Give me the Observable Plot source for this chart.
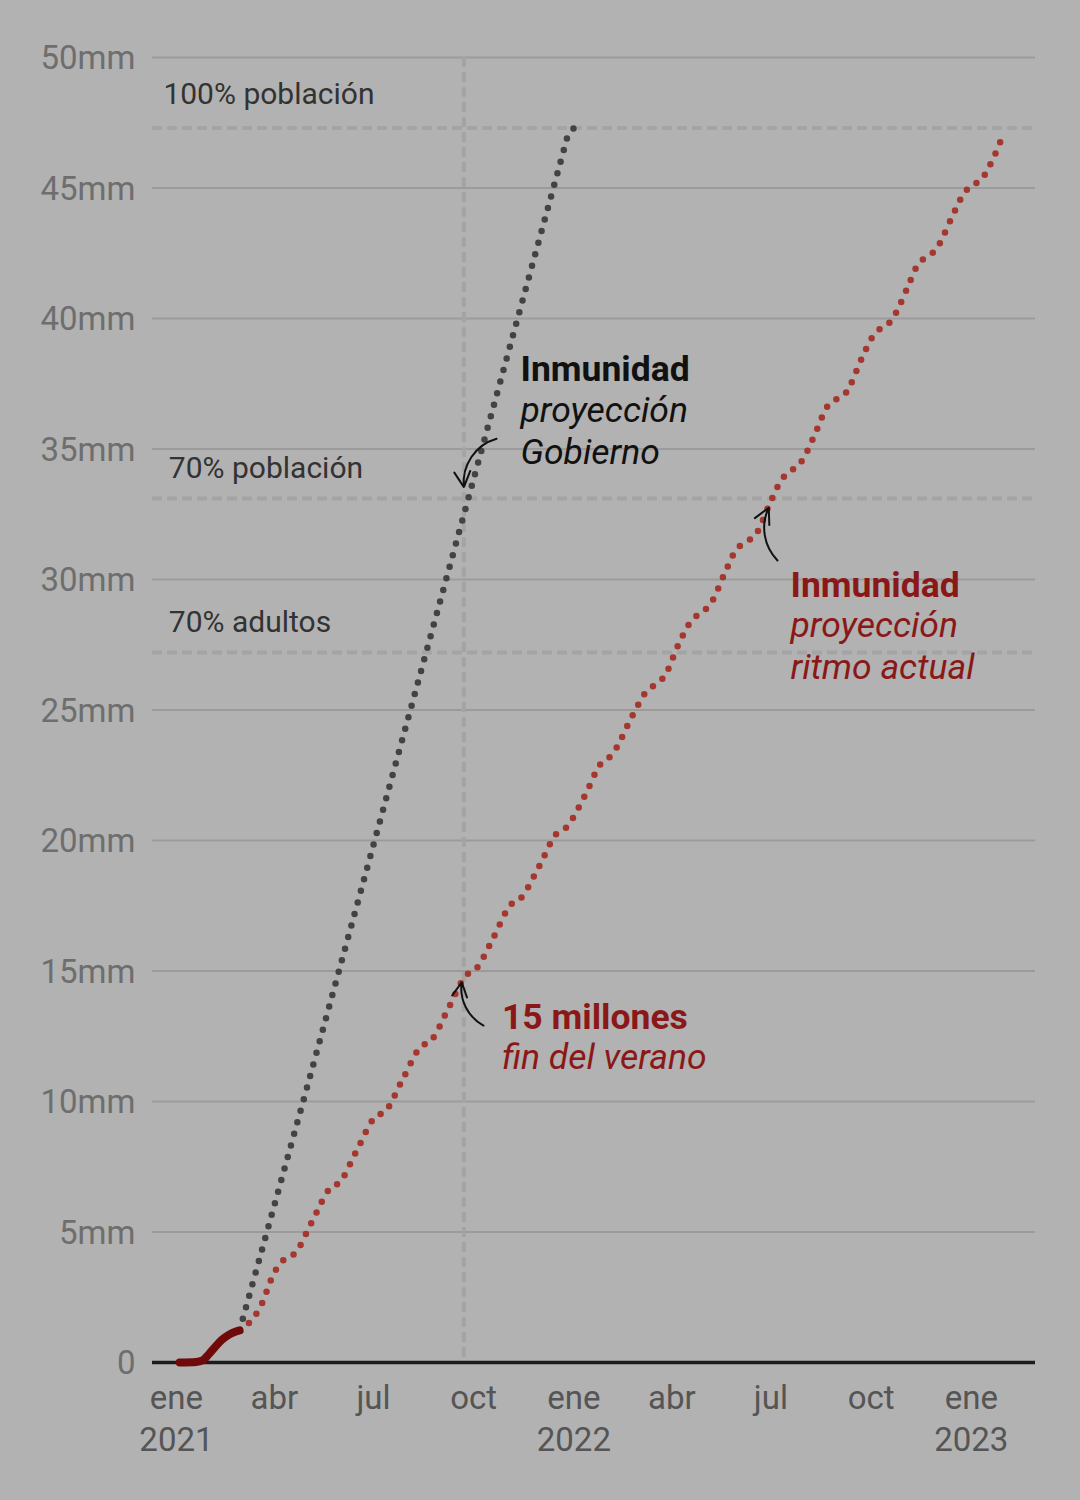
<!DOCTYPE html>
<html>
<head>
<meta charset="utf-8">
<script src="https://cdn.jsdelivr.net/npm/d3@7"></script>
<script src="https://cdn.jsdelivr.net/npm/@observablehq/plot@0.6"></script>
<style>
  html, body { margin: 0; padding: 0; background: #b2b2b2; }
  #chart svg { display: block; }
</style>
</head>
<body>
<div id="chart"></div>
<script>
// ---------- data ----------
const actualDates  = ["2021-01-04","2021-01-19","2021-01-25","2021-01-31","2021-02-06","2021-02-12","2021-02-18","2021-02-24","2021-02-28"];
const actualValues = [0, 0.02, 0.08, 0.33, 0.62, 0.88, 1.06, 1.18, 1.23];

const govDates  = ["2021-02-28","2021-05-01","2021-07-01","2021-09-01","2021-11-01","2021-12-26","2022-01-01"];
const govValues = [1.23, 10.55, 19.84, 29.29, 38.58, 46.95, 47.3];

const ritmoDates = [
  "2021-02-28","2021-03-08","2021-03-21","2021-03-29","2021-04-03","2021-04-10","2021-04-20",
  "2021-05-06","2021-05-22","2021-05-31","2021-06-16","2021-07-02","2021-07-12","2021-07-28",
  "2021-08-13","2021-08-23","2021-09-08","2021-09-24","2021-10-03","2021-10-19","2021-11-04",
  "2021-11-13","2021-11-30","2021-12-16","2021-12-25","2022-01-11","2022-01-26","2022-02-04",
  "2022-02-25","2022-03-08","2022-03-17","2022-03-25","2022-04-08","2022-04-19","2022-04-27",
  "2022-05-06","2022-05-20","2022-05-30","2022-06-08","2022-06-17","2022-07-01","2022-07-11",
  "2022-07-19","2022-07-28","2022-08-12","2022-08-21","2022-08-30","2022-09-08","2022-09-22",
  "2022-10-02","2022-10-10","2022-10-19","2022-11-03","2022-11-12","2022-11-20","2022-11-29",
  "2022-12-14","2022-12-24","2022-12-31","2023-01-10","2023-01-21","2023-01-30"
];
const ritmoValues = [
  1.23, 1.49, 2.30, 3.18, 3.60, 3.95, 4.19,
  5.44, 6.67, 6.91, 8.16, 9.39, 9.63, 10.87,
  12.08, 12.34, 13.59, 14.83, 15.07, 16.27, 17.54,
  17.78, 19.00, 20.26, 20.50, 21.71, 22.96, 23.24,
  24.88, 25.68, 25.98, 26.28, 27.60, 28.42, 28.71,
  29.03, 30.28, 31.14, 31.43, 31.72, 33.01, 33.84,
  34.15, 34.46, 35.72, 36.58, 36.90, 37.16, 38.43,
  39.28, 39.63, 39.89, 41.14, 42.00, 42.35, 42.61,
  43.86, 44.71, 45.07, 45.31, 46.12, 47.01
];

const refValues = [47.3, 33.1, 27.2];
const refLabels = ["100% población", "70% población", "70% adultos"];
const refLabelDates = ["2020-12-20", "2020-12-25", "2020-12-25"];
const refLabelValues = [48.2, 33.87, 28.0];

const summerEnd = ["2021-09-22"];

const yTicks = [0, 5, 10, 15, 20, 25, 30, 35, 40, 45, 50];
const yTickLabels = ["0", "5mm", "10mm", "15mm", "20mm", "25mm", "30mm", "35mm", "40mm", "45mm", "50mm"];
const xTickDates = ["2021-01-01","2021-04-01","2021-07-01","2021-10-01","2022-01-01","2022-04-01","2022-07-01","2022-10-01","2023-01-01"];
const xTickLabels = ["ene\n2021","abr","jul","oct","ene\n2022","abr","jul","oct","ene\n2023"];

const annTexts  = ["Inmunidad","proyección","Gobierno","Inmunidad","proyección","ritmo actual","15 millones","fin del verano"];
const annDates  = ["2021-11-13","2021-11-13","2021-11-13","2022-07-19","2022-07-19","2022-07-19","2021-10-27","2021-10-27"];
const annValues = [37.62, 36.03, 34.43, 29.32, 27.79, 26.20, 12.79, 11.25];
const annGroup  = ["gobBold","gobItal","gobItal","redBold","redItal","redItal","redBold","redItal"];

const arrowFromDates  = ["2021-10-22","2022-07-07","2021-10-10"];
const arrowFromValues = [35.39, 30.73, 12.91];
const arrowToDates    = ["2021-09-22","2022-06-29","2021-09-20"];
const arrowToValues   = [33.54, 32.75, 14.57];
const arrowBends      = [-40, 35, 35];

// ---------- build tables ----------
const P = d3.utcParse("%Y-%m-%d");
const actual = actualDates.map((d, i) => ({date: P(d), value: actualValues[i]}));
const gov = govDates.map((d, i) => ({date: P(d), value: govValues[i]}));
const ritmo = ritmoDates.map((d, i) => ({date: P(d), value: ritmoValues[i]}));
const refLabelRows = refLabels.map((t, i) => ({text: t, date: P(refLabelDates[i]), value: refLabelValues[i]}));
const annRows = annTexts.map((t, i) => ({text: t, date: P(annDates[i]), value: annValues[i], group: annGroup[i]}));
const arrows = arrowFromDates.map((d, i) => ({
  x1: P(d), y1: arrowFromValues[i], x2: P(arrowToDates[i]), y2: arrowToValues[i], bend: arrowBends[i]
}));
const xTicks = xTickDates.map(P);
const xLabelMap = new Map(xTicks.map((d, i) => [+d, xTickLabels[i]]));
const yLabelMap = new Map(yTicks.map((d, i) => [d, yTickLabels[i]]));

const RED_TEXT = "#8a1818";
const annFont = 35.5;

const chart = Plot.plot({
  width: 1080,
  height: 1500,
  marginTop: 57,
  marginBottom: 138,
  marginLeft: 152,
  marginRight: 45,
  style: {background: "#b2b2b2", fontFamily: "Roboto, 'Noto Sans', sans-serif"},
  x: {type: "utc", domain: [P("2020-12-10"), P("2023-03-01")]},
  y: {domain: [0, 50]},
  marks: [
    Plot.gridY(yTicks.filter(d => d > 0), {stroke: "#9b9b9b", strokeOpacity: 1, strokeWidth: 2}),
    Plot.ruleY(refValues, {stroke: "#a4a4a4", strokeWidth: 4, strokeDasharray: "10 5"}),
    Plot.ruleX(summerEnd.map(P), {stroke: "#a4a4a4", strokeWidth: 4, strokeDasharray: "10 5"}),
    Plot.axisY({ticks: yTicks, tickSize: 0, tickPadding: 17, fontSize: 33, fill: "#6e6e6e",
      tickFormat: d => yLabelMap.get(d), dy: 1}),
    Plot.axisX({ticks: xTicks, tickSize: 0, tickPadding: 17, fontSize: 33, fill: "#555555",
      lineHeight: 1.27, tickFormat: d => xLabelMap.get(+d)}),
    Plot.ruleY([0], {stroke: "#1c1c1c", strokeWidth: 3.5}),
    Plot.line(gov, {x: "date", y: "value", stroke: "#434343", strokeWidth: 6.5,
      strokeDasharray: "0 12", strokeLinecap: "round"}),
    Plot.line(ritmo, {x: "date", y: "value", stroke: "#a5382e", strokeWidth: 6.5,
      strokeDasharray: "0 12", strokeLinecap: "round", curve: "monotone-x"}),
    Plot.line(actual, {x: "date", y: "value", stroke: "#700a0a", strokeWidth: 8,
      strokeLinecap: "round", curve: "monotone-x"}),
    Plot.text(refLabelRows, {x: "date", y: "value", text: "text", textAnchor: "start",
      lineAnchor: "bottom", fontSize: 30, fill: "#333333"}),
    Plot.text(annRows.filter(d => d.group === "gobBold"), {x: "date", y: "value", text: "text",
      textAnchor: "start", lineAnchor: "bottom", fontSize: annFont, fontWeight: "bold", fill: "#111111"}),
    Plot.text(annRows.filter(d => d.group === "gobItal"), {x: "date", y: "value", text: "text",
      textAnchor: "start", lineAnchor: "bottom", fontSize: annFont, fontStyle: "italic", fill: "#111111"}),
    Plot.text(annRows.filter(d => d.group === "redBold"), {x: "date", y: "value", text: "text",
      textAnchor: "start", lineAnchor: "bottom", fontSize: annFont, fontWeight: "bold", fill: RED_TEXT}),
    Plot.text(annRows.filter(d => d.group === "redItal"), {x: "date", y: "value", text: "text",
      textAnchor: "start", lineAnchor: "bottom", fontSize: annFont, fontStyle: "italic", fill: RED_TEXT}),
    ...arrows.map(a => Plot.arrow([a], {x1: "x1", y1: "y1", x2: "x2", y2: "y2", bend: a.bend,
      stroke: "#111111", strokeWidth: 2, headLength: 13, headAngle: 55}))
  ]
});
document.getElementById("chart").appendChild(chart);
</script>
</body>
</html>
